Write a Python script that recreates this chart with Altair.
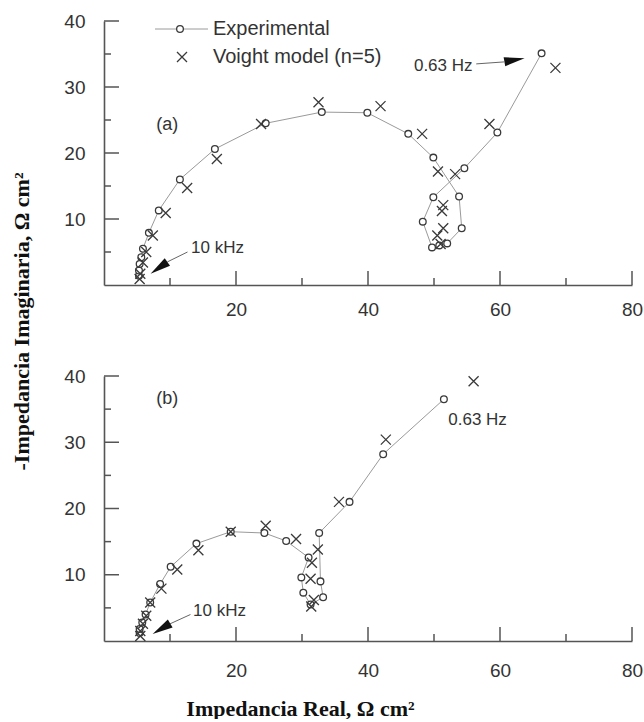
import altair as alt
import pandas as pd

# ---------------- data ----------------
# Panel (a)
exp_a_x = [5.3, 5.3, 5.4, 5.65, 5.9, 6.8, 8.3, 11.5, 16.8, 24.5, 33.0, 39.9, 46.1, 49.9,
           53.8, 54.2, 52.0, 50.8, 49.7, 48.3, 49.9, 54.6, 59.6, 66.3]
exp_a_y = [1.4, 2.2, 3.2, 4.2, 5.5, 7.9, 11.3, 16.0, 20.6, 24.5, 26.2, 26.1, 22.9, 19.3,
           13.4, 8.6, 6.3, 6.0, 5.7, 9.6, 13.3, 17.7, 23.1, 35.1]
mod_a_x = [5.4, 5.5, 5.9, 6.4, 7.4, 9.35, 12.6, 17.1, 23.8, 32.5, 41.9, 48.2, 50.6, 51.4,
           51.2, 51.4, 50.5, 51.0, 53.2, 58.4, 68.4]
mod_a_y = [0.9, 1.7, 3.4, 5.0, 7.5, 10.9, 14.7, 19.1, 24.4, 27.7, 27.1, 22.9, 17.2, 12.1,
           11.2, 8.6, 7.5, 6.2, 16.8, 24.4, 32.9]

# Panel (b)
exp_b_x = [5.4, 5.4, 5.8, 6.3, 7.0, 8.5, 10.1, 14.0, 19.2, 24.3, 27.6, 31.0, 29.9, 30.2,
           31.3, 33.2, 32.8, 32.6, 37.2, 42.3, 51.5]
exp_b_y = [1.2, 1.8, 2.8, 4.0, 5.8, 8.6, 11.2, 14.7, 16.5, 16.3, 15.1, 12.6, 9.6, 7.3,
           5.5, 6.6, 9.0, 16.3, 21.0, 28.2, 36.5]
mod_b_x = [5.5, 5.5, 5.9, 6.4, 7.0, 8.7, 11.1, 14.3, 19.2, 24.5, 29.1, 32.4, 31.5, 31.3,
           31.8, 31.4, 35.6, 42.7, 56.0]
mod_b_y = [0.75, 1.5, 2.6, 3.8, 5.8, 7.9, 10.8, 13.7, 16.5, 17.4, 15.4, 13.8, 11.8, 9.4,
           6.2, 5.2, 21.0, 30.4, 39.2]

# Annotations (text, x, y in data units)
ann_a_text = ["(a)", "10 kHz", "0.63 Hz"]
ann_a_x = [9.6, 17.2, 51.4]
ann_a_y = [24.2, 5.6, 33.2]
ann_b_text = ["(b)", "10 kHz", "0.63 Hz"]
ann_b_x = [9.6, 17.5, 56.6]
ann_b_y = [36.5, 4.5, 33.3]

# Arrows: shaft (x, x2, y, y2) and head (x, y, angle)
arr_a_shaft = [[12.65, 9.6, 5.0, 3.5], [56.4, 60.6, 33.5, 33.8]]
arr_a_head = [[8.33, 2.58, 235], [62.2, 34.1, 80]]
arr_b_shaft = [[13.1, 9.8, 4.0, 2.5]]
arr_b_head = [[8.7, 1.84, 239]]

legend_labels = ["Experimental", "Voight model (n=5)"]

x_major = [20, 40, 60, 80]
x_minor = [10, 30, 50, 70]
y_major = [10, 20, 30, 40]
y_minor = [5, 15, 25, 35]

x_title = "Impedancia Real, Ω cm²"
y_title = "-Impedancia Imaginaria, Ω cm²"

# ---------------- style ----------------
W = 528
H_A = 264
H_B = 265
SANS = "Liberation Sans"
SERIF = "Liberation Serif"
AX = "#555555"
PT = "#3a3a3a"
CROSS = "M-1,-1L1,1M-1,1L1,-1"
HEAD = "M0,-1L0.45,1L-0.45,1Z"

xs = alt.Scale(domain=[0, 80], nice=False, zero=False)
ys = alt.Scale(domain=[0, 40], nice=False, zero=False)


def x_axis(pad, show_title):
    kw = dict(values=x_major, ticks=False, tickSize=0, grid=False, domainColor=AX,
              domainWidth=1.6, labelFont=SANS, labelFontSize=19, labelColor="#333333",
              labelPadding=pad, labelFlush=False, labelOverlap=False, format="d")
    if show_title:
        kw.update(title=x_title, titleFont=SERIF, titleFontSize=22, titleFontWeight="bold",
                  titleColor="#111111", titleX=196, titleY=67, titleBaseline="middle",
                  titleAlign="center")
    else:
        kw.update(title=None)
    return alt.Axis(**kw)


def y_axis(show_title):
    kw = dict(values=y_major, ticks=False, tickSize=0, grid=False, domainColor=AX,
              domainWidth=1.6, labelFont=SANS, labelFontSize=19, labelColor="#333333",
              labelPadding=19, labelOverlap=False, format="d")
    if show_title:
        kw.update(title=y_title, titleFont=SERIF, titleFontSize=22, titleFontWeight="bold",
                  titleColor="#111111", titleX=-83, titleY=300, titleBaseline="middle",
                  titleAlign="center", titleAngle=270)
    else:
        kw.update(title=None)
    return alt.Axis(**kw)


def panel(ex, ey, mx, my, ann_t, ann_x, ann_y, shafts, heads, H, xpad, xt, yt, legend):
    xa = x_axis(xpad, xt)
    ya = y_axis(yt)

    def X(f):
        return alt.X(f, type="quantitative", scale=xs, axis=xa)

    def Y(f):
        return alt.Y(f, type="quantitative", scale=ys, axis=ya)

    def XD(v):
        return alt.X(datum=v, type="quantitative", scale=xs, axis=xa)

    def YD(v):
        return alt.Y(datum=v, type="quantitative", scale=ys, axis=ya)

    layers = []
    # inward ticks (line-segment rules)
    for vals, ln in [(x_major, 14), (x_minor, 7)]:
        layers.append(alt.Chart(pd.DataFrame({"v": vals})).mark_rule(
            color=AX, strokeWidth=1.5).encode(
            x=X("v"), x2=alt.X2("v"), y=alt.value(H), y2=alt.value(H - ln)))
    for vals, ln in [(y_major, 15), (y_minor, 7)]:
        layers.append(alt.Chart(pd.DataFrame({"v": vals})).mark_rule(
            color=AX, strokeWidth=1.5).encode(
            y=Y("v"), y2=alt.Y2("v"), x=alt.value(0), x2=alt.value(ln)))

    dexp = pd.DataFrame({"x": ex, "y": ey, "i": list(range(len(ex)))})
    dmod = pd.DataFrame({"x": mx, "y": my})
    layers.append(alt.Chart(dexp).mark_line(color="#9a9a9a", strokeWidth=1).encode(
        x=X("x"), y=Y("y"), order="i:Q"))
    layers.append(alt.Chart(dexp).mark_point(
        shape="circle", filled=True, fill="white", stroke=PT, strokeWidth=1.3,
        size=45, opacity=1).encode(x=X("x"), y=Y("y")))
    layers.append(alt.Chart(dmod).mark_point(
        shape=CROSS, filled=False, stroke=PT, strokeWidth=1.3, size=100,
        opacity=1).encode(x=X("x"), y=Y("y")))

    # annotations
    for t, ax_, ay_ in zip(ann_t, ann_x, ann_y):
        fs = 18 if t.startswith("(") else 17
        layers.append(alt.Chart(pd.DataFrame({"t": [t]})).mark_text(
            font=SANS, fontSize=fs, color="#333333", align="center",
            baseline="middle").encode(x=XD(ax_), y=YD(ay_), text="t:N"))
    for (x1, x2, y1, y2) in shafts:
        layers.append(alt.Chart(pd.DataFrame({"k": [0]})).mark_rule(
            color="#666666", strokeWidth=1).encode(
            x=XD(x1), x2=alt.X2(datum=x2), y=YD(y1), y2=alt.Y2(datum=y2)))
    for (hx, hy, ang) in heads:
        layers.append(alt.Chart(pd.DataFrame({"k": [0]})).mark_point(
            shape=HEAD, filled=True, color="#111111", size=420, angle=ang,
            opacity=1).encode(x=XD(hx), y=YD(hy)))

    if legend:
        ld0 = pd.DataFrame({"t": [legend_labels[0]]})
        ld1 = pd.DataFrame({"t": [legend_labels[1]]})
        layers.append(alt.Chart(ld0).mark_rule(color="#9a9a9a", strokeWidth=1).encode(
            x=alt.value(51), x2=alt.value(104), y=alt.value(8)))
        layers.append(alt.Chart(ld0).mark_point(
            shape="circle", filled=True, fill="white", stroke=PT, strokeWidth=1.3,
            size=45, opacity=1).encode(x=alt.value(76), y=alt.value(8)))
        layers.append(alt.Chart(ld1).mark_point(
            shape=CROSS, filled=False, stroke=PT, strokeWidth=1.3, size=100,
            opacity=1).encode(x=alt.value(78), y=alt.value(36)))
        layers.append(alt.Chart(ld0).mark_text(
            font=SANS, fontSize=20, color="#333333", align="left",
            baseline="middle").encode(x=alt.value(109), y=alt.value(8), text="t:N"))
        layers.append(alt.Chart(ld1).mark_text(
            font=SANS, fontSize=20, color="#333333", align="left",
            baseline="middle").encode(x=alt.value(109), y=alt.value(36), text="t:N"))

    return alt.layer(*layers).properties(width=W, height=H)


pa = panel(exp_a_x, exp_a_y, mod_a_x, mod_a_y, ann_a_text, ann_a_x, ann_a_y,
           arr_a_shaft, arr_a_head, H_A, 15, False, True, True)
pb = panel(exp_b_x, exp_b_y, mod_b_x, mod_b_y, ann_b_text, ann_b_x, ann_b_y,
           arr_b_shaft, arr_b_head, H_B, 20, True, False, False)

chart = alt.vconcat(pa, pb, spacing=91, bounds="flush").properties(
    padding={"left": 10, "top": 12, "right": 0, "bottom": 0},
    background="white",
).configure_view(stroke=None)

chart.save("out.html", embed_options={"renderer": "svg", "actions": False})
